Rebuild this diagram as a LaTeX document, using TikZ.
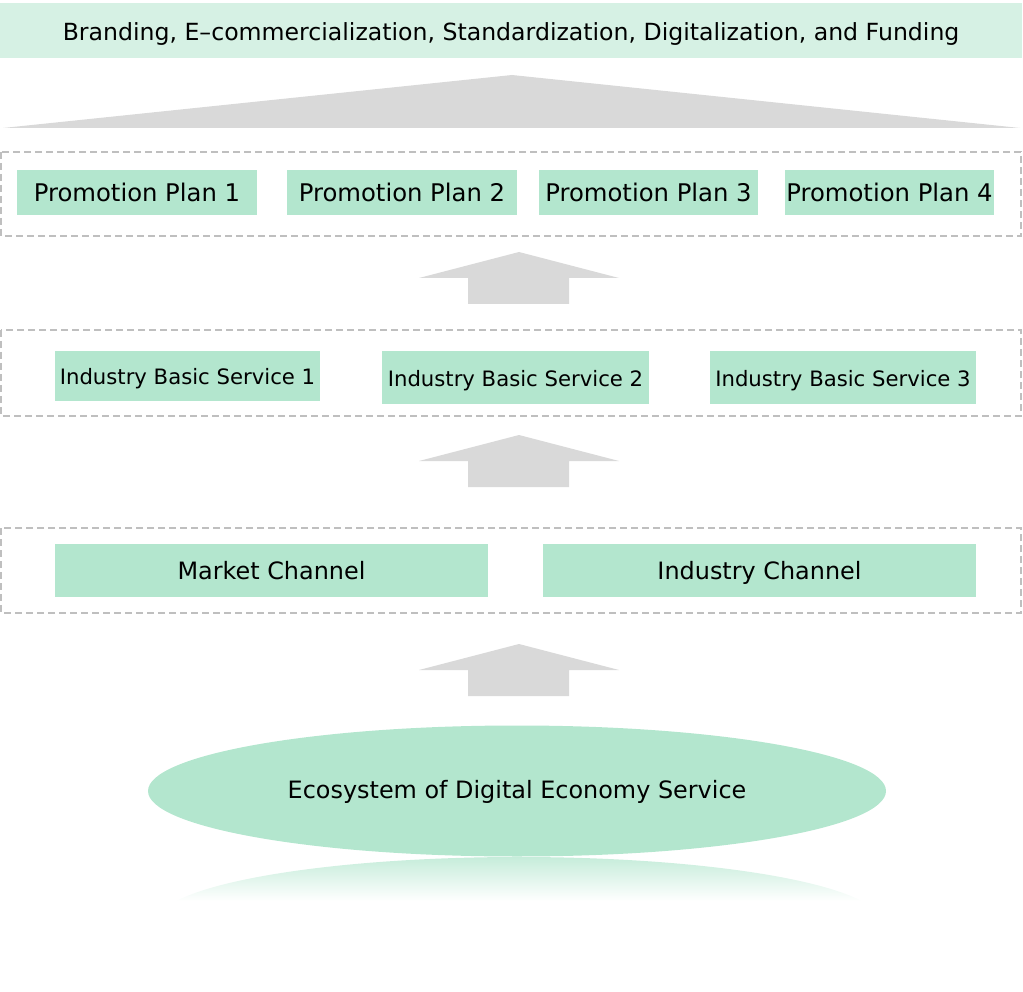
\documentclass[tikz,border=0pt]{standalone}
\usepackage{fontspec}
\setmainfont{DejaVu Sans}
\usetikzlibrary{shapes.geometric}
\definecolor{mintlight}{HTML}{D6F1E4}
\definecolor{mint}{HTML}{B3E6CE}
\definecolor{arrowgray}{HTML}{D9D9D9}
\definecolor{dashgray}{HTML}{BFBFBF}
\tikzset{
    banner box/.style={fill=mintlight, inner sep=0pt,
        text height=19.5pt, text depth=0.3pt,
        font=\fontsize{23.6}{28}\selectfont},
    plan box/.style={fill=mint, inner sep=0pt, minimum height=45pt,
        text height=17pt, text depth=0.2pt,
        font=\fontsize{24.3}{29}\selectfont},
    service box/.style={fill=mint, inner sep=0pt, minimum height=51pt,
        text height=17.5pt, text depth=0.5pt,
        font=\fontsize{21.2}{25}\selectfont},
    channel box/.style={fill=mint, inner sep=0pt, minimum width=433pt,
        minimum height=53pt, text height=19pt, text depth=0.6pt,
        font=\fontsize{23.9}{28}\selectfont},
    eco ellipse/.style={ellipse, fill=mint, inner sep=0pt,
        minimum width=738pt, minimum height=131pt,
        text height=16pt, text depth=0.6pt,
        font=\fontsize{23.9}{28}\selectfont},
    group frame/.style={draw=dashgray, line width=2pt,
        dash pattern=on 7pt off 4pt},
    flow arrow/.style={fill=arrowgray}
}
\newcommand{\UpArrow}[1]{%
\fill[flow arrow] (519,#1)--(619,#1+26)--(569,#1+26)--(569,#1+52)
    --(468,#1+52)--(468,#1+26)--(419,#1+26)--cycle;
}

\begin{document}
\begin{tikzpicture}[x=1pt,y=-1pt]
    \useasboundingbox (0,0) rectangle (1023,992);
    % top goal
    \node[banner box, minimum width=1022pt, minimum height=55pt]
        (goal) at (511,31)
        {Branding, E--commercialization, Standardization, Digitalization, and Funding};
    \fill[flow arrow] (512,75)--(1020,128)--(3,128)--cycle;
    % promotion plans
    \draw[group frame] (1,152) rectangle (1021,236);
    \node[plan box, minimum width=240pt] (plan1) at (137,193) {Promotion Plan 1};
    \node[plan box, minimum width=230pt] (plan2) at (402,193) {Promotion Plan 2};
    \node[plan box, minimum width=219pt] (plan3) at (648.5,193) {Promotion Plan 3};
    \node[plan box, minimum width=209pt] (plan4) at (889.5,193) {Promotion Plan 4};
    \UpArrow{252}
    % basic services
    \draw[group frame] (1,330) rectangle (1021,416);
    \node[service box, minimum width=265pt, minimum height=50pt]
        (serv1) at (187.5,376) {Industry Basic Service 1};
    \node[service box, minimum width=267pt, minimum height=53pt]
        (serv2) at (515.5,377.5) {Industry Basic Service 2};
    \node[service box, minimum width=266pt, minimum height=53pt]
        (serv3) at (843,377.5) {Industry Basic Service 3};
    \UpArrow{435}
    % channels
    \draw[group frame] (1,528) rectangle (1021,613);
    \node[channel box] (market) at (271.5,570.5) {Market Channel};
    \node[channel box] (industry) at (759.5,570.5) {Industry Channel};
    \UpArrow{644}
    % ecosystem and its reflection
    \begin{scope}
        \clip (519,922) ellipse [x radius=362, y radius=65];
        \shade[top color=mint!75, bottom color=white]
            (150,857) rectangle (890,901);
    \end{scope}
    \node[eco ellipse] (eco) at (517,791) {Ecosystem of Digital Economy Service};
\end{tikzpicture}
\end{document}
